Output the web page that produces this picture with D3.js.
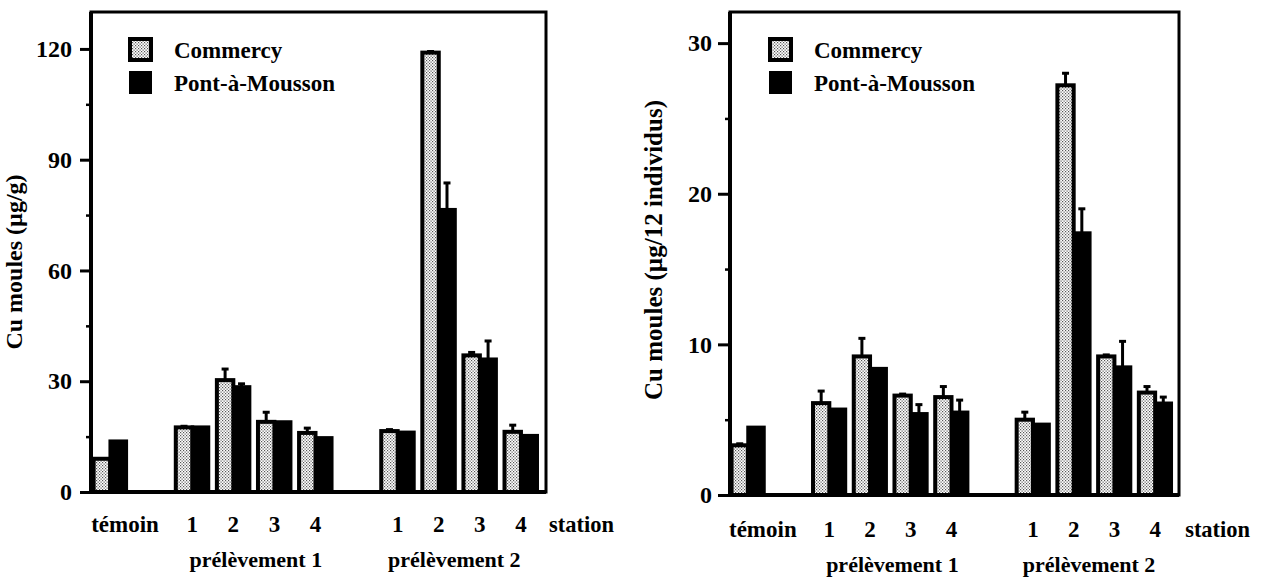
<!DOCTYPE html>
<html><head><meta charset="utf-8">
<script src="https://cdn.jsdelivr.net/npm/d3@7"></script>
<style>
body{margin:0;background:#fff;}
text{font-family:"Liberation Serif","Times New Roman",serif;font-weight:bold;fill:#000;}
</style>
</head><body>
<svg id="c" width="1263" height="582"></svg>
<script>
// ---------- data ----------
const slots = ["témoin","gap1","p1-1","p1-2","p1-3","p1-4","gap2","p2-1","p2-2","p2-3","p2-4"];
const groups = ["témoin","p1-1","p1-2","p1-3","p1-4","p2-1","p2-2","p2-3","p2-4"];
const stationLabels = ["témoin","1","2","3","4","1","2","3","4"];
const seriesNames = ["Commercy","Pont-à-Mousson"];
const campaignLabels = ["prélèvement 1","prélèvement 2"];
const stationWord = "station";

// chart A : Cu moules (µg/g)
const aCommercy    = [9.0, 17.5, 30.3, 19.0, 16.0, 16.5, 119.0, 37.0, 16.3];
const aCommercySD  = [0,   0.3,  3.0,  2.6,  1.3,  0.4,  0.3,   0.8,  1.8];
const aPont        = [13.8,17.6, 28.5, 19.0, 14.7, 16.2, 76.5,  36.0, 15.3];
const aPontSD      = [0,   0,    0.8,  0,    0,    0,    7.2,   4.9,  0];
const aTicks = [0,30,60,90,120];
const aMinor = [15,45,75,105];

// chart B : Cu moules (µg/12 individus)
const bCommercy    = [3.3, 6.1, 9.2, 6.6, 6.5, 5.0, 27.2, 9.2, 6.8];
const bCommercySD  = [0.1, 0.8, 1.2, 0.1, 0.7, 0.5, 0.8,  0.1, 0.4];
const bPont        = [4.5, 5.7, 8.4, 5.4, 5.5, 4.7, 17.4, 8.5, 6.1];
const bPontSD      = [0,   0,   0,   0.6, 0.8, 0,   1.6,  1.7, 0.4];
const bTicks = [0,10,20,30];
const bMinor = [5,15,25];

// ---------- drawing ----------
const svg = d3.select("#c");
const defs = svg.append("defs");
const pat = defs.append("pattern").attr("id","stip").attr("patternUnits","userSpaceOnUse")
  .attr("width",3).attr("height",3);
pat.append("rect").attr("width",3).attr("height",3).attr("fill","#fff");
pat.append("rect").attr("x",0).attr("y",0).attr("width",1.2).attr("height",1.2).attr("fill","#555");
pat.append("rect").attr("x",1.5).attr("y",1.5).attr("width",1.2).attr("height",1.2).attr("fill","#555");

function chart(cfg){
  const g = svg.append("g");
  const x = d3.scaleBand().domain(slots).range(cfg.xRange).padding(0);
  const y = d3.scaleLinear().domain(cfg.yDomain).range(cfg.yRange);
  const bw = x.bandwidth()*0.4;
  const cx = k => x(k) + x.bandwidth()/2;

  // frame
  g.append("rect").attr("x",cfg.frame[0]).attr("y",cfg.frame[1])
    .attr("width",cfg.frame[2]-cfg.frame[0]).attr("height",cfg.frame[3]-cfg.frame[1])
    .attr("fill","none").attr("stroke","#000").attr("stroke-width",3);

  // axis
  const ax = g.append("g").attr("transform",`translate(${cfg.frame[0]},0)`)
    .call(d3.axisLeft(y).tickValues(cfg.ticks).tickSize(cfg.tickLen).tickPadding(cfg.tickPad).tickFormat(d3.format("d")));
  ax.select(".domain").remove();
  ax.selectAll(".tick line").attr("stroke","#000").attr("stroke-width",3);
  ax.selectAll("text").style("font-size","24px").style("font-family","'Liberation Serif',serif").style("font-weight","bold");
  const mx = g.append("g").attr("transform",`translate(${cfg.frame[0]},0)`)
    .call(d3.axisLeft(y).tickValues(cfg.minor).tickSize(5).tickFormat(""));
  mx.select(".domain").remove();
  mx.selectAll(".tick line").attr("stroke","#000").attr("stroke-width",2.5);

  // bars
  const data = groups.map((k,i)=>({k, c:cfg.c[i], cs:cfg.cs[i], p:cfg.p[i], ps:cfg.ps[i]}));
  const sw = 3.2;
  data.forEach(d=>{
    const x0 = cx(d.k) - bw;
    [[d.c,d.cs,x0+bw/2],[d.p,d.ps,x0+bw*1.5]].forEach(([v,s,xc])=>{
      if(s>0){
        g.append("line").attr("x1",xc).attr("x2",xc).attr("y1",y(v)).attr("y2",y(v+s))
          .attr("stroke","#000").attr("stroke-width",3);
        g.append("line").attr("x1",xc-3.5).attr("x2",xc+3.5).attr("y1",y(v+s)).attr("y2",y(v+s))
          .attr("stroke","#000").attr("stroke-width",3);
      }
    });
    g.append("rect").attr("x",x0+bw).attr("y",y(d.p)).attr("width",bw).attr("height",y(0)-y(d.p))
      .attr("fill","#000").attr("stroke","#000").attr("stroke-width",sw);
    g.append("rect").attr("x",x0).attr("y",y(d.c)).attr("width",bw).attr("height",y(0)-y(d.c))
      .attr("fill","url(#stip)").attr("stroke","#000").attr("stroke-width",sw+0.8);
  });

  // thick axis lines
  g.append("line").attr("x1",cfg.frame[0]).attr("x2",cfg.frame[2]).attr("y1",y(0)).attr("y2",y(0))
    .attr("stroke","#000").attr("stroke-width",4);
  g.append("line").attr("x1",cfg.frame[0]).attr("x2",cfg.frame[0]).attr("y1",cfg.frame[1]).attr("y2",y(0))
    .attr("stroke","#000").attr("stroke-width",4);

  // x labels
  groups.forEach((k,i)=>{
    g.append("text").attr("x",cx(k) + (i===0?cfg.temoinShift:0)).attr("y",cfg.labY)
      .attr("text-anchor","middle").style("font-size","23px").text(stationLabels[i]);
  });
  g.append("text").attr("x",cx("p2-4")+cfg.stationShift).attr("y",cfg.labY)
    .style("font-size","22.5px").text(stationWord);
  g.append("text").attr("x",(cx("p1-1")+cx("p1-4"))/2 + 2).attr("y",cfg.campY)
    .attr("text-anchor","middle").style("font-size","22px").text(campaignLabels[0]);
  g.append("text").attr("x",(cx("p2-1")+cx("p2-4"))/2 - 5).attr("y",cfg.campY)
    .attr("text-anchor","middle").style("font-size","22px").text(campaignLabels[1]);

  // y title
  g.append("text").attr("transform",`translate(${cfg.titleX},${cfg.titleY}) rotate(-90)`)
    .attr("text-anchor","middle").style("font-size",cfg.titleSize).text(cfg.title);

  // legend
  const lx = cfg.legX;
  seriesNames.forEach((s,i)=>{
    const ly = cfg.legY + i*33;
    g.append("rect").attr("x",lx).attr("y",ly).attr("width",21).attr("height",21)
      .attr("fill", i===0 ? "url(#stip)" : "#000").attr("stroke","#000").attr("stroke-width", i===0?4:2);
    g.append("text").attr("x",lx+44).attr("y",ly+19).style("font-size","23px").text(s);
  });
}

chart({xRange:[89.5,541.5], yDomain:[0,130], yRange:[492,12], frame:[91,12,546,492],
  ticks:aTicks, minor:aMinor, tickLen:11, tickPad:8,
  c:aCommercy, cs:aCommercySD, p:aPont, ps:aPontSD,
  labY:532, campY:567, temoinShift:15, stationShift:28,
  title:"Cu moules (µg/g)", titleSize:"24px", titleX:22, titleY:262, legX:130, legY:39});

chart({xRange:[727.5,1175.5], yDomain:[0,32], yRange:[495,13], frame:[730,12,1179,495],
  ticks:bTicks, minor:bMinor, tickLen:12, tickPad:6,
  c:bCommercy, cs:bCommercySD, p:bPont, ps:bPontSD,
  labY:537, campY:572, temoinShift:15, stationShift:30,
  title:"Cu moules (µg/12 individus)", titleSize:"25px", titleX:662, titleY:250, legX:770, legY:39});
</script>
</body></html>
